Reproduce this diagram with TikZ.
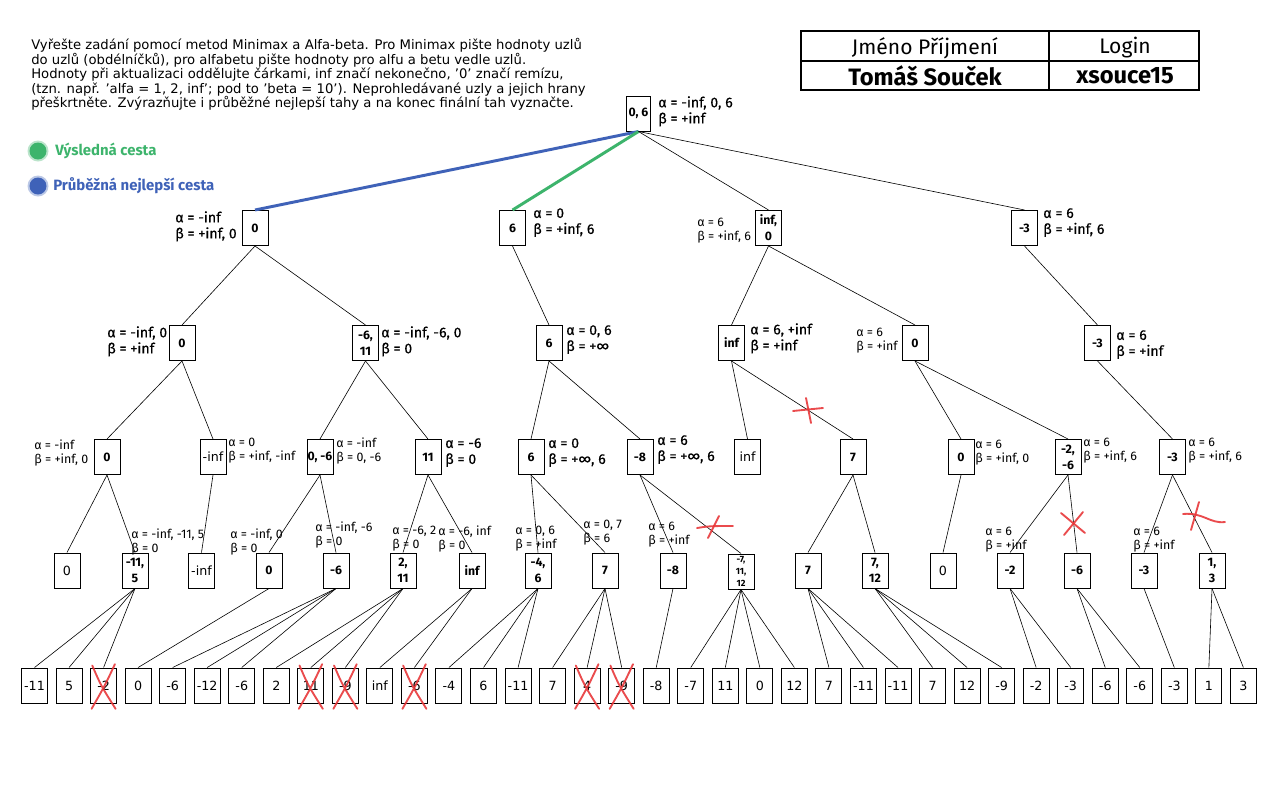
\documentclass[tikz,border=0pt]{standalone}
\usepackage{fontspec}
\setmainfont{DejaVu Sans}
\newfontfamily\lab{Fira Sans}
\newfontfamily\labm{Fira Sans}[FakeBold=0.5]
\definecolor{pathgreen}{HTML}{3DB46C}
\definecolor{pathblue}{HTML}{3F62B8}
\definecolor{mark}{HTML}{E8383A}
\begin{document}
\begin{tikzpicture}[x=0.75pt,y=-0.75pt,
  every node/.style={inner sep=0pt},
  box/.style={draw, line width=0.75pt, minimum width=19.5pt, minimum height=26.25pt, align=center,
    font=\lab\bfseries\fontsize{9.2}{12}\selectfont},
  plain/.style={box, font=\fontsize{9.5}{12}\selectfont},
  edge/.style={line width=0.45pt},
  lbl/.style={anchor=north west, align=left, font=\labm\fontsize{10.6}{12}\selectfont},
  slbl/.style={anchor=north west, align=left, font=\lab\fontsize{9.3}{10.5}\selectfont},
  cross/.style={draw=mark, line width=1.4pt, line cap=round, opacity=0.9}]
\useasboundingbox (0,0) rectangle (1280,800);
\fill[white] (0,0) rectangle (1280,800);

% instructions
\node[anchor=north west, align=left, font=\fontsize{9.9}{10.9}\selectfont] (txt) at (31,38)
 {Vyřešte zadání pomocí metod Minimax a Alfa-beta. Pro Minimax pište hodnoty uzlů\\
  do uzlů (obdélníčků), pro alfabetu pište hodnoty pro alfu a betu vedle uzlů.\\
  Hodnoty při aktualizaci oddělujte čárkami, inf značí nekonečno, '0' značí remízu,\\
  (tzn. např. 'alfa = 1, 2, inf'; pod to 'beta = 10'). Neprohledávané uzly a jejich hrany\\
  přeškrtněte. Zvýrazňujte i průběžné nejlepší tahy a na konec finální tah vyznačte.};

% name table
\draw[line width=1.5pt] (801,31) rectangle (1199,90);
\draw[line width=1.5pt] (1049,31) -- (1049,90);
\draw[line width=1.5pt] (801,61) -- (1199,61);
\node[font=\lab\fontsize{15.8}{16}\selectfont] (hname) at (925,48) {Jméno Příjmení};
\node[font=\lab\fontsize{15.8}{16}\selectfont] (hlogin) at (1125,48) {Login};
\node[font=\lab\bfseries\fontsize{17.8}{18}\selectfont] (vname) at (925,76) {Tomáš Souček};
\node[font=\lab\bfseries\fontsize{17.8}{18}\selectfont] (vlogin) at (1125,76) {xsouce15};

% legend
\fill[pathgreen, opacity=0.35] (38,151) circle (10.5);
\fill[pathgreen] (38,151) circle (8.5);
\fill[pathblue, opacity=0.35] (38,186) circle (10.5);
\fill[pathblue] (38,186) circle (8.5);
\node[anchor=west, text=pathgreen, font=\lab\bfseries\fontsize{11.2}{12}\selectfont] (lg1) at (55,151) {Výsledná cesta};
\node[anchor=west, text=pathblue, font=\lab\bfseries\fontsize{11.2}{12}\selectfont] (lg2) at (53,186) {Průběžná nejlepší cesta};

% root
\node[box, minimum width=17.5pt] (r) at (638.5,113.5) {0, 6};
\node[lbl] (rl) at (658,96) {α = -inf, 0, 6\\β = +inf};

% depth 1
\node[box] (a) at (255,228) {0};
\node[box] (b) at (512.5,228) {6};
\node[box] (c) at (768.5,228) {inf,\\0};
\node[box] (d) at (1024.5,228) {-3};
\node[lbl] (al) at (175,211) {α = -inf\\β = +inf, 0};
\node[lbl] (bl) at (533,208) {α = 0\\β = +inf, 6};
\node[slbl] (cl) at (697,218) {α = 6\\β = +inf, 6};
\node[lbl] (dl) at (1043,208) {α = 6\\β = +inf, 6};

% depth 2
\node[box] (aa) at (182,343) {0};
\node[box] (ab) at (365.5,343) {-6,\\11};
\node[box] (ba) at (549,343) {6};
\node[box] (ca) at (731.5,343) {inf};
\node[box] (cb) at (915,343) {0};
\node[box] (da) at (1097.5,343) {-3};
\node[lbl] (aal) at (107,326) {α = -inf, 0\\β = +inf};
\node[lbl] (abl) at (381,326) {α = -inf, -6, 0\\β = 0};
\node[lbl] (bal) at (566,325) {α = 0, 6\\β = +∞};
\node[lbl] (cal) at (750,323) {α = 6, +inf\\β = +inf};
\node[slbl] (cbl) at (856,328) {α = 6\\β = +inf};
\node[lbl] (dal) at (1116,330) {α = 6\\β = +inf};

% depth 3
\node[box] (aaa) at (107,457) {0};
\node[plain] (aab) at (213,457) {-inf};
\node[box] (aba) at (320,457) {0, -6};
\node[box] (abb) at (428,457) {11};
\node[box] (baa) at (531,457) {6};
\node[box] (bab) at (640,457) {-8};
\node[plain] (caa) at (747.5,457) {inf};
\node[box] (cab) at (853,457) {7};
\node[box] (cba) at (961,457) {0};
\node[box] (cbb) at (1068,457) {-2,\\-6};
\node[box] (daa) at (1172.5,457) {-3};
\node[slbl] (aaal) at (34,440) {α = -inf\\β = +inf, 0};
\node[slbl] (aabl) at (228,438) {α = 0\\β = +inf, -inf};
\node[slbl] (abal) at (336,438) {α = -inf\\β = 0, -6};
\node[lbl] (abbl) at (445,438) {α = -6\\β = 0};
\node[lbl] (baal) at (548,438) {α = 0\\β = +∞, 6};
\node[lbl] (babl) at (657,435) {α = 6\\β = +∞, 6};
\node[slbl] (cbal) at (975,440) {α = 6\\β = +inf, 0};
\node[slbl] (cbbl) at (1083,438) {α = 6\\β = +inf, 6};
\node[slbl] (daal) at (1188,438) {α = 6\\β = +inf, 6};

% depth 4
\node[plain] (q1) at (67,570.5) {0};
\node[box] (q2) at (135,570.5) {-11,\\5};
\node[plain] (q3) at (201.5,570.5) {-inf};
\node[box] (q4) at (269,570.5) {0};
\node[box] (q5) at (336,570.5) {-6};
\node[box] (q6) at (403,570.5) {2,\\11};
\node[box] (q7) at (472,570.5) {inf};
\node[box] (q8) at (538,570.5) {-4,\\6};
\node[box] (q9) at (605,570.5) {7};
\node[box] (q10) at (673,570.5) {-8};
\node[box, font=\lab\bfseries\fontsize{6.8}{9.1}\selectfont] (q11) at (741,571.5) {-7,\\11,\\12};
\node[box] (q12) at (808,570.5) {7};
\node[box] (q13) at (875,570.5) {7,\\12};
\node[plain] (q14) at (943,570.5) {0};
\node[box] (q15) at (1010,570.5) {-2};
\node[box] (q16) at (1077,570.5) {-6};
\node[box] (q17) at (1144,570.5) {-3};
\node[box] (q18) at (1212,570.5) {1,\\3};
\node[slbl] (q2l) at (131,529) {α = -inf, -11, 5\\β = 0};
\node[slbl] (q4l) at (230,529) {α = -inf, 0\\β = 0};
\node[slbl] (q5l) at (315,522) {α = -inf, -6\\β = 0};
\node[slbl] (q6l) at (392,526) {α = -6, 2\\β = 0};
\node[slbl] (q7l) at (438,526) {α = -6, inf\\β = 0};
\node[slbl] (q8l) at (515,526) {α = 0, 6\\β = +inf};
\node[slbl] (q9l) at (583,520) {α = 0, 7\\β = 6};
\node[slbl] (q10l) at (648,522) {α = 6\\β = +inf};
\node[slbl] (q15l) at (985,527) {α = 6\\β = +inf};
\node[slbl] (q17l) at (1133,527) {α = 6\\β = +inf};

% leaves
\foreach \v [count=\i] in {-11,5,-2,0,-6,-12,-6,2,11,-9,inf,-6,-4,6,-11,7,4,-9,-8,-7,11,0,12,7,-11,-11,7,12,-9,-2,-3,-6,-6,-3,1,3}
  \node[plain] (lf\i) at ({34.5+(\i-1)*34.54},685.5) {\v};

% tree edges
\draw[pathblue, line width=2.2pt] (r.south) -- (a.north);
\draw[pathgreen, line width=2.2pt] (r.south) -- (b.north);
\draw[edge] (r.south) -- (c.north);
\draw[edge] (r.south) -- (d.north);
\foreach \p/\ch in {a/aa, a/ab, b/ba, c/ca, c/cb, d/da,
  aa/aaa, aa/aab, ab/aba, ab/abb, ba/baa, ba/bab, ca/caa, ca/cab, cb/cba, cb/cbb, da/daa,
  aaa/q1, aaa/q2, aab/q3, aba/q4, aba/q5, abb/q6, abb/q7, baa/q8, baa/q9, bab/q10, bab/q11,
  cab/q12, cab/q13, cba/q14, cbb/q15, cbb/q16, daa/q17, daa/q18}
  \draw[edge] (\p.south) -- (\ch.north);
\foreach \p/\i in {q2/1, q2/2, q2/3, q4/4, q5/5, q5/6, q5/7, q6/8, q6/9, q6/10, q7/11, q7/12,
  q8/13, q8/14, q8/15, q9/16, q9/17, q9/18, q10/19, q11/20, q11/21, q11/22, q11/23,
  q12/24, q12/25, q12/26, q13/27, q13/28, q13/29, q15/30, q15/31, q16/32, q16/33, q17/34, q18/35, q18/36}
  \draw[edge] (\p.south) -- (lf\i.north);

% pruned edges
\draw[cross] (793,411) -- (823,408);
\draw[cross] (806,398) -- (811,423);
\draw[cross] (697,528) .. controls (710,526) .. (733,526);
\draw[cross] (708,538) -- (719,516);
\draw[cross] (1061,513) -- (1085,533);
\draw[cross] (1083,512) -- (1064,535);
\draw[cross] (1183,514) .. controls (1203,512) and (1210,524) .. (1225,522);
\draw[cross] (1199,502) -- (1191,530);

% pruned leaves
\foreach \i in {3,9,10,12,17,18}
  \draw[cross] ([xshift=-8.5pt,yshift=1.5pt]lf\i.north) .. controls ([xshift=-2pt]lf\i.center) .. ([xshift=9pt,yshift=-4pt]lf\i.south)
               ([xshift=8.5pt,yshift=2.5pt]lf\i.north) .. controls ([xshift=1pt]lf\i.center) .. ([xshift=-9pt,yshift=-4pt]lf\i.south);
\end{tikzpicture}
\end{document}
